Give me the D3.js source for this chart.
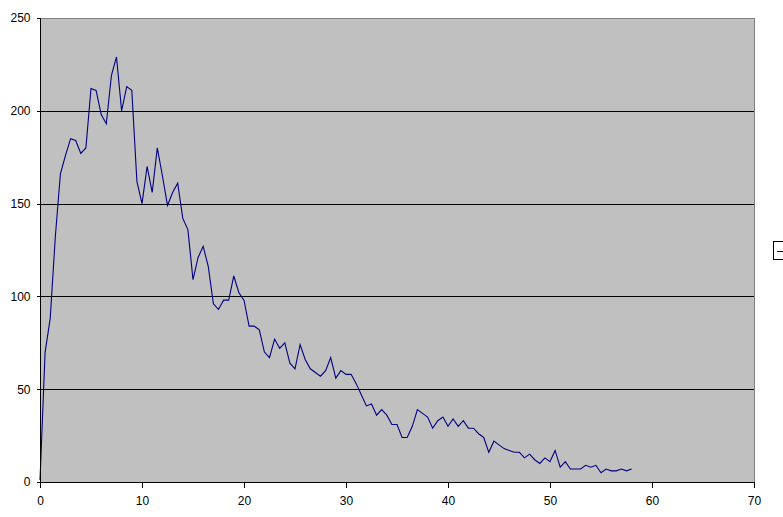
<!DOCTYPE html>
<html>
<head>
<meta charset="utf-8">
<script src="https://cdn.jsdelivr.net/npm/d3@7"></script>
<style>
  html, body { margin: 0; padding: 0; background: #ffffff; }
  svg { display: block; }
  text { font-family: Arial, "Liberation Sans", sans-serif; font-size: 12px; fill: #000; }
</style>
</head>
<body>
<script>
// ---- data ----
const xValues = [0,0.5,1,1.5,2,2.5,3,3.5,4,4.5,5,5.5,6,6.5,7,7.5,8,8.5,9,9.5,
  10,10.5,11,11.5,12,12.5,13,13.5,14,14.5,15,15.5,16,16.5,17,17.5,18,18.5,19,19.5,
  20,20.5,21,21.5,22,22.5,23,23.5,24,24.5,25,25.5,26,26.5,27,27.5,28,28.5,29,29.5,
  30,30.5,31,31.5,32,32.5,33,33.5,34,34.5,35,35.5,36,36.5,37,37.5,38,38.5,39,39.5,
  40,40.5,41,41.5,42,42.5,43,43.5,44,44.5,45,45.5,46,46.5,47,47.5,48,48.5,49,49.5,
  50,50.5,51,51.5,52,52.5,53,53.5,54,54.5,55,55.5,56,56.5,57,57.5,58];
const yValues = [1,70,88,132,166,176,185,184,177,180,212,211,198,193,219,229,200,213,211,162,
  150,170,156,180,165,149,156,161,142,136,109,121,127,116,96,93,98,98,111,102,
  98,84,84,82,70,67,77,72,75,64,61,74,66,61,59,57,60,67,56,60,
  58,58,53,47,41,42,36,39,36,31,31,24,24,30,39,37,35,29,33,35,
  30,34,30,33,29,29,26,24,16,22,20,18,17,16,16,13,15,12,10,13,
  11,17,8,11,7,7,7,9,8,9,5,7,6,6,7,6,7];
const xTicks = [0,10,20,30,40,50,60,70];
const yTicks = [0,50,100,150,200,250];

// ---- layout ----
const W = 783, H = 517;
const plot = { left: 40, right: 754, top: 18, bottom: 482 };

const svg = d3.select("body").append("svg").attr("width", W).attr("height", H);

const x = d3.scaleLinear().domain([0, 70]).range([plot.left, plot.right]);
const y = d3.scaleLinear().domain([0, 250]).range([plot.bottom, plot.top]);

// plot background
svg.append("rect")
  .attr("x", plot.left).attr("y", plot.top)
  .attr("width", plot.right - plot.left).attr("height", plot.bottom - plot.top)
  .attr("fill", "#c0c0c0");

// top & right borders (gray)
svg.append("path")
  .attr("d", `M${plot.left},${plot.top + 0.5}H${plot.right + 0.5}V${plot.bottom}`)
  .attr("fill", "none").attr("stroke", "#808080").attr("stroke-width", 1)
  .attr("shape-rendering", "crispEdges");

// horizontal gridlines
svg.append("g").selectAll("line")
  .data(yTicks.filter(d => d > 0 && d < 250))
  .join("line")
  .attr("x1", plot.left).attr("x2", plot.right)
  .attr("y1", d => Math.round(y(d)) + 0.5).attr("y2", d => Math.round(y(d)) + 0.5)
  .attr("stroke", "#000").attr("stroke-width", 1)
  .attr("shape-rendering", "crispEdges");

// series line
const line = d3.line()
  .x((d, i) => x(xValues[i]))
  .y(d => y(d));
svg.append("path")
  .datum(yValues)
  .attr("d", line)
  .attr("fill", "none")
  .attr("stroke", "#000080")
  .attr("stroke-width", 1.1)
  .attr("stroke-linejoin", "miter");

// axes
const yAxis = d3.axisLeft(y).tickValues(yTicks).tickSize(4).tickPadding(6).tickFormat(d3.format("d"));
const gy = svg.append("g").attr("transform", `translate(${plot.left + 0.5},0)`).call(yAxis);
const xAxis = d3.axisBottom(x).tickValues(xTicks).tickSize(5).tickPadding(9).tickFormat(d3.format("d"));
const gx = svg.append("g").attr("transform", `translate(0,${plot.bottom + 0.5})`).call(xAxis);

[gx, gy].forEach(g => {
  g.select(".domain").attr("stroke", "#000").attr("shape-rendering", "crispEdges");
  g.selectAll(".tick line").attr("stroke", "#000").attr("shape-rendering", "crispEdges");
  g.selectAll(".tick text")
    .attr("font-family", "Arial, 'Liberation Sans', sans-serif")
    .attr("font-size", 12).attr("fill", "#000");
});
gy.select(".domain").attr("d", `M-4,${plot.top}H0V${plot.bottom}H-4`);
gx.select(".domain").attr("d", `M${plot.left},5V0H${plot.right}V5`);
gy.selectAll(".tick text").attr("x", -10);

// legend fragment (cut off at right edge)
const lg = svg.append("g");
lg.append("rect")
  .attr("x", 773.5).attr("y", 241.5).attr("width", 30).attr("height", 18)
  .attr("fill", "#fff").attr("stroke", "#000").attr("stroke-width", 1)
  .attr("shape-rendering", "crispEdges");
lg.append("line")
  .attr("x1", 777).attr("x2", 790).attr("y1", 251).attr("y2", 251)
  .attr("stroke", "#000080").attr("stroke-width", 1)
  .attr("shape-rendering", "crispEdges");
</script>
</body>
</html>
